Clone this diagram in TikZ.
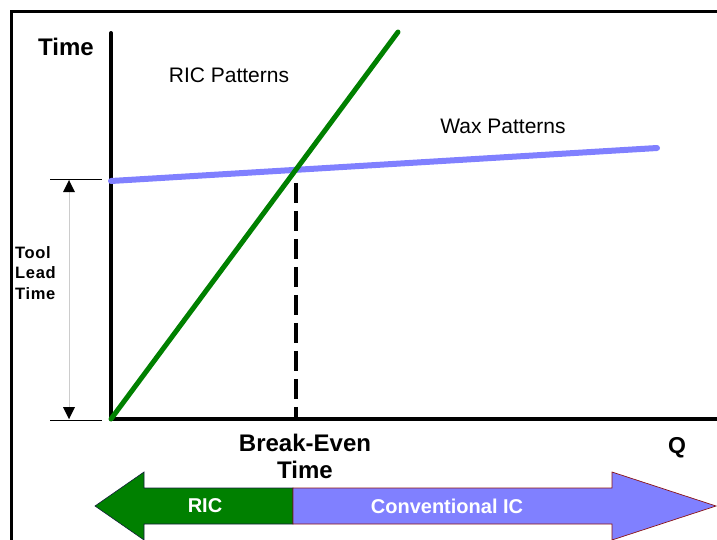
\documentclass[tikz,border=0pt]{standalone}
\usepackage{fontspec}
\setmainfont{Liberation Sans}
\definecolor{ricgreen}{RGB}{0,128,0}
\definecolor{waxblue}{RGB}{128,128,255}
\definecolor{rimred}{RGB}{140,20,20}
\definecolor{rimnavy}{RGB}{20,30,60}
\begin{document}
\begin{tikzpicture}[x=1pt,y=-1pt,
  frame/.style={line width=3pt},
  axis/.style={line width=4pt,line cap=round},
  curve/.style={line width=#1,line cap=round},
  tick/.style={line width=0.9pt},
  lbl/.style={inner sep=0pt,font=\fontsize{21}{24}\selectfont},
  bold/.style={inner sep=0pt,font=\bfseries\fontsize{#1}{27}\selectfont,align=center},
  headtri/.style={fill=black}]
\useasboundingbox (0,0) rectangle (717,539);
% outer frame (top and left edge)
\coordinate (fTL) at (11,11);
\coordinate (fTR) at (717,11);
\coordinate (fBL) at (11,540);
\draw[frame] (fBL) -- (fTL) -- (fTR);
% axes
\coordinate (O) at (111,419);
\coordinate (yTop) at (111,33);
\coordinate (xEnd) at (718,419);
\draw[axis] (yTop) -- (O);
\draw[line width=4pt] (O) -- (xEnd);
% cost lines
\coordinate (gEnd) at (398,32);
\coordinate (bStart) at (111,181);
\coordinate (bEnd) at (657,148);
\draw[curve=6pt,waxblue] (bStart) -- (bEnd);
\draw[curve=5pt,ricgreen] (O) -- (gEnd);
% break-even point
\coordinate (BE) at (intersection of O--gEnd and bStart--bEnd);
\coordinate (BEs) at ([yshift=-13pt]BE);
\draw[line width=3.5pt,dash pattern=on 20pt off 8pt] (BEs) -- (BE |- O);
% tool lead time dimension
\coordinate (tTopL) at (50,179);
\coordinate (tTopR) at (102,179);
\coordinate (tBotL) at (50,420);
\coordinate (tBotR) at (102,420);
\coordinate (dTop) at (69,180);
\coordinate (dBot) at (69,419);
\draw[tick] (tTopL) -- (tTopR);
\draw[tick] (tBotL) -- (tBotR);
\draw[line width=0.8pt,black!20] (dTop) -- (dBot);
\fill[headtri] (dTop) -- ++(-6,12) -- ++(12,0) -- cycle;
\fill[headtri] (dBot) -- ++(-6,-12) -- ++(12,0) -- cycle;
% labels
\node[bold=24] (tTime) at (66,47) {Time};
\node[lbl] (tRic) at (229,75) {RIC Patterns};
\node[lbl] (tWax) at (503,126) {Wax Patterns};
\node[inner sep=0pt,anchor=base west,align=left,
      font=\bfseries\fontsize{16.5}{20.5}\selectfont] (tTool) at (15,299)
      {\addfontfeature{LetterSpace=4}Tool\\\addfontfeature{LetterSpace=4}Lead\\\addfontfeature{LetterSpace=4}Time};
\node[bold=24] (tBE) at (305,456) {Break-Even\\Time};
\node[bold=23] (tQ) at (677,448) {Q};
% range arrows
\draw[fill=ricgreen,draw=rimnavy,line width=0.6pt,line join=miter]
  (95,506) -- (144,472) -- (144,488) -- (293,488) -- (293,524)
  -- (144,524) -- (144,540) -- cycle;
\draw[fill=waxblue,draw=rimred,line width=0.7pt,line join=miter]
  (293,488) -- (612,488) -- (612,472) -- (716,506) -- (612,540)
  -- (612,524) -- (293,524) -- cycle;
\node[bold=20,text=white] (tRicBar) at (205,506) {RIC};
\node[bold=20,text=white] (tConv) at (447,506) {Conventional IC};
\end{tikzpicture}
\end{document}
